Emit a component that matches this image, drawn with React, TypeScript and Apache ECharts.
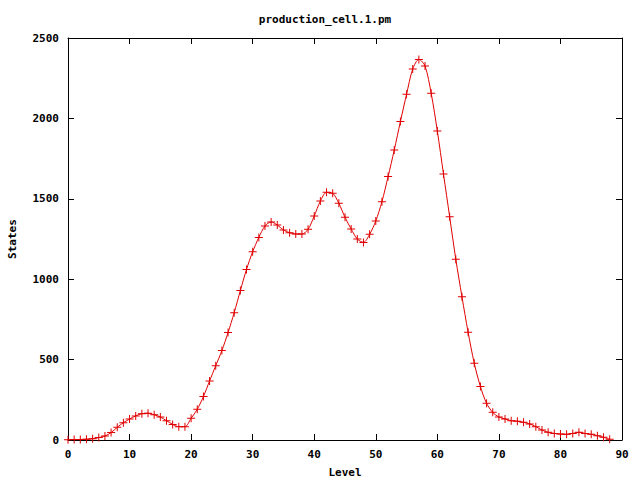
import React, { useEffect, useRef } from "react";
import * as echarts from "echarts";

const levels: number[] = Array.from({ length: 89 }, (_, i) => i);
const states: number[] = [
  2, 3, 3, 5, 8, 15, 25, 46, 79, 108,
  130, 150, 164, 166, 157, 143, 120, 97, 83, 83,
  135, 191, 270, 367, 462, 556, 668, 792, 929, 1061,
  1171, 1260, 1331, 1356, 1337, 1306, 1289, 1281, 1281, 1310,
  1393, 1486, 1540, 1534, 1472, 1385, 1312, 1250, 1229, 1279,
  1362, 1482, 1638, 1803, 1980, 2150, 2307, 2367, 2326, 2156,
  1922, 1654, 1389, 1124, 891, 670, 477, 332, 228, 172,
  143, 131, 120, 117, 110, 100, 83, 62, 48, 41,
  37, 35, 41, 48, 41, 35, 27, 17, 4,
];
const title = "production_cell.1.pm";
const xName = "Level";
const yName = "States";

const FONT = "'DejaVu Sans Mono', monospace";

export default function App() {
  const ref = useRef<HTMLDivElement>(null);
  useEffect(() => {
    if (!ref.current) return;
    const chart = echarts.init(ref.current, null, { renderer: "svg" });
    const axisCommon = {
      axisLine: { show: true, onZero: false, lineStyle: { color: "#000", width: 1 } },
      axisTick: { show: true, inside: true, length: 6, lineStyle: { color: "#000" } },
      splitLine: { show: false },
    };
    const labelStyle = { color: "#000", fontFamily: FONT, fontWeight: "bold" as const, fontSize: 11 };
    const plain = (v: number) => String(v);
    chart.setOption({
      animation: false,
      backgroundColor: "#fff",
      title: {
        text: title,
        left: 320,
        top: 9,
        textAlign: "center",
        textStyle: { ...labelStyle, fontSize: 11 },
      },
      grid: {
        left: 68,
        right: 18,
        top: 38,
        bottom: 40,
        containLabel: false,
        outerBoundsMode: "none",
      },
      xAxis: [
        {
          type: "value",
          min: 0,
          max: 90,
          interval: 10,
          position: "bottom",
          name: xName,
          nameLocation: "middle",
          nameGap: 27,
          nameTextStyle: labelStyle,
          axisLabel: { ...labelStyle, margin: 9, formatter: plain },
          ...axisCommon,
        },
        {
          type: "value",
          min: 0,
          max: 90,
          interval: 10,
          position: "top",
          axisLabel: { show: false },
          ...axisCommon,
        },
      ],
      yAxis: [
        {
          type: "value",
          min: 0,
          max: 2500,
          interval: 500,
          position: "left",
          name: yName,
          nameLocation: "middle",
          nameGap: 50,
          nameRotate: 90,
          nameTextStyle: labelStyle,
          axisLabel: { ...labelStyle, margin: 9, formatter: plain },
          ...axisCommon,
        },
        {
          type: "value",
          min: 0,
          max: 2500,
          interval: 500,
          position: "right",
          axisLabel: { show: false },
          ...axisCommon,
        },
      ],
      series: [
        {
          type: "line",
          data: levels.map((l, i) => [l, states[i]]),
          smooth: 0.3,
          symbol: "path://M3.5,0h1v3.5h3.5v1h-3.5v3.5h-1v-3.5h-3.5v-1h3.5z",
          symbolSize: 8,
          showSymbol: true,
          showAllSymbol: true,
          lineStyle: { color: "#e00000", width: 1 },
          itemStyle: { color: "#e00000" },
        },
      ],
    });
    return () => chart.dispose();
  }, []);
  return <div ref={ref} style={{ width: 640, height: 480, position: "absolute", left: 0, top: 0 }} />;
}
